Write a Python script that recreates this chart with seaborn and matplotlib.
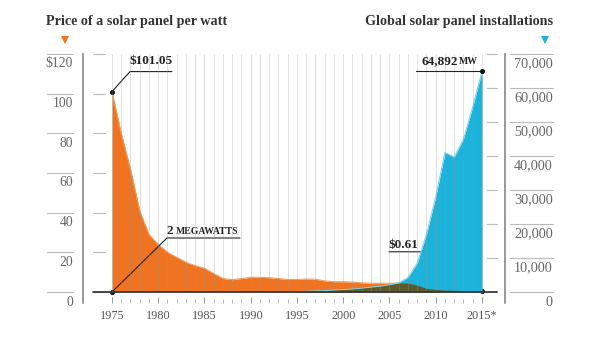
import numpy as np
import pandas as pd
import matplotlib
matplotlib.use("Agg")
import matplotlib.pyplot as plt
from matplotlib.lines import Line2D
import seaborn as sns

# ---------------- data ----------------
years = list(range(1975, 2016))
price = [101.05, 80, 62, 41, 29, 24, 20, 17.5, 15, 13.3,
         12, 9.3, 6.8, 6.2, 6.8, 7.4, 7.4, 7.2, 6.8, 6.3,
         6.3, 6.5, 6.4, 5.6, 5.2, 5.2, 5.0, 4.6, 4.4, 4.4,
         4.4, 4.5, 4.5, 3.5, 1.8, 1.3, 1.0, 0.85, 0.75, 0.68,
         0.61]
installs = [2, 3, 4, 6, 8, 10, 14, 20, 25, 30,
            35, 40, 45, 50, 55, 60, 65, 70, 75, 80,
            100, 200, 300, 400, 550, 700, 850, 1100, 1400, 1700,
            2100, 2700, 4300, 8500, 17000, 28000, 41000, 39700, 45000, 54500,
            64892]
price_ticks = [0, 20, 40, 60, 80, 100, 120]
price_labels = ["0", "20", "40", "60", "80", "100", "$120"]
mw_ticks = [0, 10000, 20000, 30000, 40000, 50000, 60000, 70000]
mw_labels = ["0", "10,000", "20,000", "30,000", "40,000", "50,000", "60,000", "70,000"]
year_ticks = [1975, 1980, 1985, 1990, 1995, 2000, 2005, 2010, 2015]
year_labels = ["1975", "1980", "1985", "1990", "1995", "2000", "2005", "2010", "2015*"]
title_left = "Price of a solar panel per watt"
title_right = "Global solar panel installations"

df = pd.DataFrame({"year": years, "price": price, "installs": installs})

# ---------------- style ----------------
sns.set_theme(style="white")
plt.rcParams["font.family"] = ["Liberation Serif", "DejaVu Serif"]

ORANGE = "#ef7320"
ORANGE_EDGE = "#f4a05c"
BLUE = "#1cb2d9"
BLUE_EDGE = "#7fd5ec"
DARK = "#5d5a2e"
GRAY = "#666666"
LINEGRAY = "#bbbbbb"
TXT = "#333333"

W, H = 600, 341
fig = plt.figure(figsize=(6, 3.41), dpi=100)
fig.patch.set_facecolor("white")

left_px, right_px, top_px, bot_px = 83, 505, 54, 303
ax = fig.add_axes([left_px / W, 1 - bot_px / H, (right_px - left_px) / W, (bot_px - top_px) / H])
ax2 = ax.twinx()

px_per_unit = (292 - 54) / 120.0
ymin = -(bot_px - 292) / px_per_unit
ax.set_ylim(ymin, 120)
ax2.set_ylim(ymin * 70000 / 120, 70000)
xl = 1975 - (112 - left_px) / 9.25
xr = 2015 + (right_px - 482) / 9.25
ax.set_xlim(xl, xr)
ax2.set_xlim(xl, xr)

for a in (ax, ax2):
    a.set_facecolor("none")
    for s in ("top", "bottom"):
        a.spines[s].set_visible(False)
ax.set_facecolor("white")
ax.spines["left"].set_color("#888888")
ax.spines["left"].set_linewidth(1.2)
ax.spines["right"].set_visible(False)
ax2.spines["left"].set_visible(False)
ax2.spines["right"].set_color("#888888")
ax2.spines["right"].set_linewidth(1.2)

# ---------------- areas ----------------
ax.fill_between(df["year"], 0, df["price"], color=ORANGE, lw=0, zorder=2)
sns.lineplot(data=df, x="year", y="price", ax=ax, color=ORANGE_EDGE, lw=0.8, zorder=3)
ax2.fill_between(df["year"], 0, df["installs"], color=BLUE, lw=0, zorder=2)
sns.lineplot(data=df, x="year", y="installs", ax=ax2, color=BLUE_EDGE, lw=0.8, zorder=3)
overlap = np.minimum(df["installs"].values, df["price"].values * 70000 / 120)
ax2.fill_between(df["year"], 0, overlap, color=DARK, lw=0, zorder=4)

# vertical year grid lines (over the fills)
ax2.vlines(years, 0, 70000, colors="#999999", lw=0.6, alpha=0.35, zorder=5)

# baseline
ax2.axhline(0, xmin=(93 - left_px) / (right_px - left_px), xmax=(497 - left_px) / (right_px - left_px),
            color="#3a3a3a", lw=1.3, zorder=6)

# ---------------- axes ticks/labels ----------------
ax.set_yticks([])
ax2.set_yticks([])
ax.set_xlabel("")
ax.set_ylabel("")
ax2.set_xlabel("")
ax2.set_ylabel("")
ax.set_xticks(year_ticks)
ax.set_xticklabels(year_labels, fontsize=8.8, color="#555555")
ax.set_xticks(years, minor=True)
ax.tick_params(axis="x", which="major", direction="in", length=4.5, width=0.7, color="#999999",
               pad=5, bottom=True)
ax.tick_params(axis="x", which="minor", direction="in", length=3, width=0.6, color="#aaaaaa", bottom=True)
ax2.tick_params(axis="x", bottom=False, labelbottom=False)

span = right_px - left_px
ytr = ax.get_yaxis_transform()
ytr2 = ax2.get_yaxis_transform()
for v, lab in zip(price_ticks, price_labels):
    ax.plot([(47 - left_px) / span, (73 - left_px) / span], [v, v], transform=ytr,
            color=LINEGRAY, lw=0.8, clip_on=False)
    ax.plot([(93 - left_px) / span, (105 - left_px) / span], [v, v], transform=ytr,
            color=LINEGRAY, lw=0.8, clip_on=False, zorder=1)
    ax.annotate(lab, xy=((73 - left_px) / span, v), xycoords=ytr, xytext=(0, -10),
                textcoords="offset pixels", ha="right", va="center", fontsize=9.8, color=GRAY)
for v, lab in zip(mw_ticks, mw_labels):
    ax2.plot([(510 - left_px) / span, (553 - left_px) / span], [v, v], transform=ytr2,
             color=LINEGRAY, lw=0.8, clip_on=False)
    if v > 0:
        ax2.plot([(487 - left_px) / span, (497 - left_px) / span], [v, v], transform=ytr2,
                 color=LINEGRAY, lw=0.8, clip_on=False, zorder=1)
    ax2.annotate(lab, xy=((553 - left_px) / span, v), xycoords=ytr2, xytext=(0, -10),
                 textcoords="offset pixels", ha="right", va="center", fontsize=10.3, color=GRAY)

# ---------------- titles ----------------
fig.text(46 / W, 1 - 22 / H, title_left, fontsize=10.2, fontweight="bold", color=TXT,
         ha="left", va="center")
fig.text(553 / W, 1 - 22 / H, title_right, fontsize=10.2, fontweight="bold", color=TXT,
         ha="right", va="center")
fig.add_artist(Line2D([65 / W], [1 - 40 / H], marker="v", markersize=6, color=ORANGE,
                      markeredgewidth=0, transform=fig.transFigure))
fig.add_artist(Line2D([545 / W], [1 - 40 / H], marker="v", markersize=6, color=BLUE,
                      markeredgewidth=0, transform=fig.transFigure))

# ---------------- annotations ----------------
fig.canvas.draw()


def leader(a, x, y, offsets, dot=True):
    px0, py0 = a.transData.transform((x, y))
    pts = [(px0, py0)] + [(px0 + dx, py0 - dy) for dx, dy in offsets]
    data = a.transData.inverted().transform(pts)
    a.plot(data[:, 0], data[:, 1], color="#222222", lw=0.8, clip_on=False, zorder=8)
    if dot:
        a.plot([x], [y], marker="o", markersize=2.6, color="#111111", clip_on=False, zorder=9)
    return px0, py0


def label_at(a, x, y, dx, dy, text, **kw):
    a.annotate(text, xy=(x, y), xycoords="data", xytext=(dx, -dy), textcoords="offset pixels",
               fontweight="bold", color="#222222", zorder=10, **kw)


# $101.05
leader(ax, years[0], price[0], [(18, -20), (60, -20)])
label_at(ax, years[0], price[0], 18, -31, "$101.05", fontsize=9.5, ha="left", va="center")

# 2 MEGAWATTS
leader(ax, years[0], 0, [(55, -54), (128, -54)])
label_at(ax, years[0], 0, 55, -61, "2", fontsize=9.5, ha="left", va="center")
label_at(ax, years[0], 0, 64, -61, "MEGAWATTS", fontsize=7, ha="left", va="center")

# $0.61
leader(ax, years[-1], price[-1], [(-39, -39), (-93, -39)])
label_at(ax, years[-1], price[-1], -93, -46, "$0.61", fontsize=9.5, ha="left", va="center")

# 64,892 MW
leader(ax2, years[-1], installs[-1], [(-66, 0)])
label_at(ax2, years[-1], installs[-1], -24, -10, "64,892", fontsize=9.5, ha="right", va="center")
label_at(ax2, years[-1], installs[-1], -4, -10, "MW", fontsize=7, ha="right", va="center")

fig.savefig("out.png", dpi=100, facecolor="white")
